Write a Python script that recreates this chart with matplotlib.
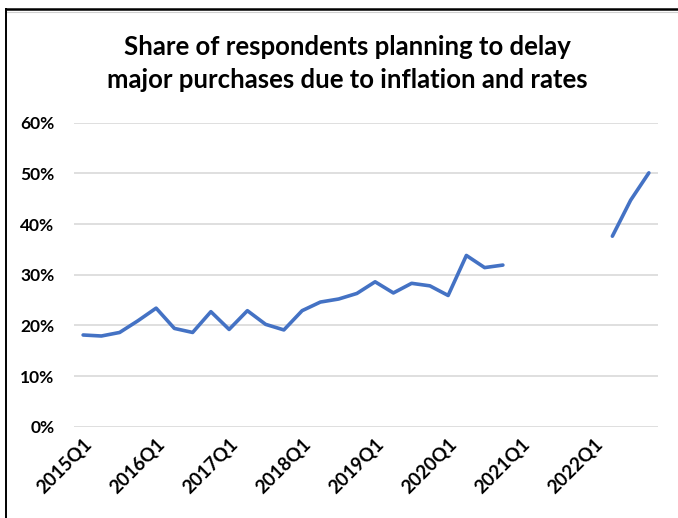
import numpy as np
import matplotlib
matplotlib.use("Agg")
import matplotlib.pyplot as plt
from matplotlib.lines import Line2D

plt.rcParams['font.family'] = ['Lato', 'DejaVu Sans']

# quarterly survey shares in percent, gap where no survey was run
quarters = [f"{y}Q{q}" for y in range(2015, 2023) for q in range(1, 5)]
share = [18.1, 17.9, 18.6, 20.9,
         23.4, 19.4, 18.6, 22.7,
         19.2, 22.9, 20.2, 19.1,
         22.9, 24.6, 25.2, 26.3,
         28.6, 26.4, 28.3, 27.8,
         25.9, 33.8, 31.4, 31.9,
         np.nan, np.nan, np.nan, np.nan,
         np.nan, 37.6, 44.7, 50.1]
yticks = [0, 10, 20, 30, 40, 50, 60]

fig = plt.figure(figsize=(6.78, 5.18), dpi=100)
ax = fig.add_axes([74/678, 1-426.7/518, (658-74)/678, (426.7-122.7)/518])

x = np.arange(len(quarters))
ax.plot(x, share, color='#4472C4', lw=2.6, solid_capstyle='round', zorder=3)

ax.set_xlim(-0.5, len(quarters)-0.5)
ax.set_ylim(0, 60)
ax.set_yticks(yticks)
ax.set_yticklabels([f"{v}%" for v in yticks], fontsize=12.5, fontweight='bold')
ax.set_xticks(x[::4])
ax.set_xticklabels(quarters[::4], rotation=45, ha='right', va='top',
                   rotation_mode='anchor', fontsize=13.5, fontweight='bold')
ax.tick_params(length=0)
ax.tick_params(axis='y', pad=14)
ax.tick_params(axis='x', pad=6)
ax.grid(axis='y', color='#D9D9D9', lw=1.2)
ax.set_axisbelow(True)
for s in ax.spines.values():
    s.set_visible(False)

fig.text(0.512, 1-47/518, "Share of respondents planning to delay",
         ha='center', va='center', fontsize=18.5, fontweight='bold')
fig.text(0.512, 1-80/518, "major purchases due to inflation and rates",
         ha='center', va='center', fontsize=18.5, fontweight='bold')

# outer frame (top and left edges)
fig.add_artist(Line2D([5.5/678, 1], [1-9/518, 1-9/518], color='black', lw=1.8,
                      transform=fig.transFigure))
fig.add_artist(Line2D([5.5/678, 1], [1-11.5/518, 1-11.5/518], color='#D0D0D0', lw=0.8,
                      transform=fig.transFigure))
fig.add_artist(Line2D([5.5/678, 5.5/678], [0, 1-9/518], color='black', lw=1.4,
                      transform=fig.transFigure))

fig.savefig("out.png", dpi=100)
